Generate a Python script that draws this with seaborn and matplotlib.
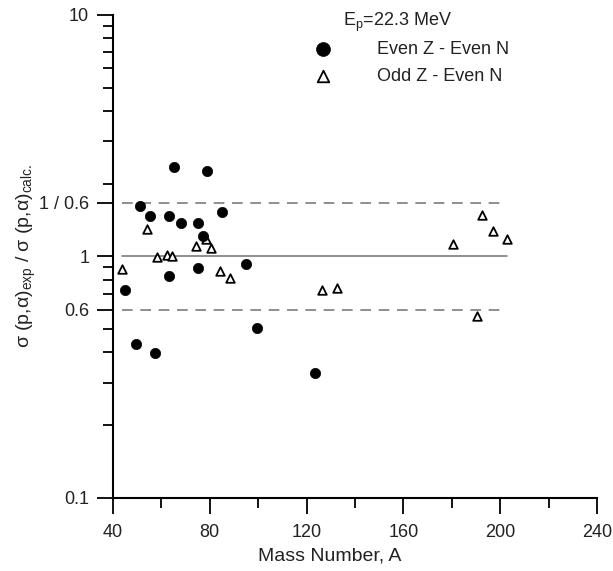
import matplotlib
matplotlib.use("Agg")
import matplotlib.pyplot as plt
import matplotlib.ticker as mticker
import seaborn as sns
import pandas as pd

# Even Z - Even N
even_A = [65.3, 79.1, 51.3, 55.3, 63.1, 85.2, 68.1, 75.3, 77.3, 75.3, 63.1, 95.2,
          45.0, 49.4, 57.5, 99.6, 123.5]
even_ratio = [2.34, 2.25, 1.61, 1.47, 1.47, 1.53, 1.38, 1.37, 1.21, 0.895, 0.826, 0.929,
              0.725, 0.432, 0.399, 0.507, 0.33]

# Odd Z - Even N
odd_A = [44.0, 54.2, 58.3, 62.2, 64.4, 74.3, 78.4, 80.4, 84.2, 88.3, 126.2, 132.4,
         180.6, 192.5, 196.9, 202.7, 190.5]
odd_ratio = [0.884, 1.30, 0.99, 1.01, 1.0, 1.10, 1.18, 1.08, 0.869, 0.813, 0.725, 0.74,
             1.13, 1.48, 1.27, 1.18, 0.566]

ref_levels = [0.6, 1.0, 1 / 0.6]
ytick_vals = [0.1, 0.6, 1, 1 / 0.6, 10]
ytick_labels = ["0.1", "0.6", "1", "1 / 0.6", "10"]

sns.set_style("ticks")
plt.rcParams["font.family"] = ["Liberation Sans", "DejaVu Sans"]
plt.rcParams["mathtext.fontset"] = "custom"
plt.rcParams["mathtext.rm"] = "Liberation Sans"
plt.rcParams["mathtext.it"] = "Liberation Sans:italic"

text_col = "#222222"

fig = plt.figure(figsize=(6.13, 5.71), dpi=100)
ax = fig.add_axes([0.184, 0.128, 0.79, 0.846])

even = pd.DataFrame({"A": even_A, "ratio": even_ratio})
odd = pd.DataFrame({"A": odd_A, "ratio": odd_ratio})

# reference lines spanning the data range
x_lo = min(min(even_A), min(odd_A))
x_hi = max(max(even_A), max(odd_A))
ax.plot([x_lo, x_hi], [ref_levels[1]] * 2, color="#707070", lw=1.1, zorder=1)
for lvl in (ref_levels[0], ref_levels[2]):
    ax.plot([x_lo, x_hi], [lvl, lvl], color="#707070", lw=1.1,
            dashes=(7, 5), zorder=1)

sns.scatterplot(data=even, x="A", y="ratio", ax=ax, marker="o", s=55,
                color="black", edgecolor="black", linewidth=0.5,
                label="Even Z - Even N", zorder=3)
sns.scatterplot(data=odd, x="A", y="ratio", ax=ax, marker="^", s=38,
                facecolor="white", edgecolor="black", linewidth=1.3,
                label="Odd Z - Even N", zorder=2)

ax.set_yscale("log")
ax.set_xlim(40, 240)
ax.set_ylim(0.1, 10)
ax.set_xticks(range(40, 241, 40))
ax.xaxis.set_minor_locator(mticker.MultipleLocator(20))
ax.set_yticks(ytick_vals)
ax.set_yticklabels(ytick_labels)
ax.yaxis.set_minor_locator(mticker.LogLocator(base=10, subs=range(2, 10)))
ax.yaxis.set_minor_formatter(mticker.NullFormatter())

ax.tick_params(axis="both", which="major", length=11.5, width=1.3, labelsize=13,
               color="black", labelcolor=text_col)
ax.tick_params(axis="x", which="major", pad=7)
ax.tick_params(axis="y", which="major", pad=5.5)
ax.tick_params(axis="both", which="minor", length=7, width=1.3, color="black")

for side in ("top", "right"):
    ax.spines[side].set_visible(False)
for side in ("left", "bottom"):
    ax.spines[side].set_linewidth(1.5)
    ax.spines[side].set_color("black")

ax.set_xlabel("Mass Number, A", fontsize=14, color=text_col, labelpad=5)
ax.xaxis.label.set_x(0.448)
ax.set_ylabel(r"σ (p,α)$_{\mathregular{exp}}$ / σ (p,α)$_{\mathregular{calc.}}$",
              fontsize=14, color=text_col, labelpad=1)

leg = ax.legend(loc="upper left", bbox_to_anchor=(0.382, 0.961), frameon=False,
                fontsize=13, handletextpad=2.0, labelspacing=0.57,
                markerscale=1.35, borderaxespad=0)
for t in leg.get_texts():
    t.set_color(text_col)

fig.text(343 / 613, 1 - 22 / 571, r"E$_{\mathregular{p}}$=22.3 MeV",
         fontsize=13, color=text_col, ha="left", va="center")

fig.savefig("out.png", dpi=100)
